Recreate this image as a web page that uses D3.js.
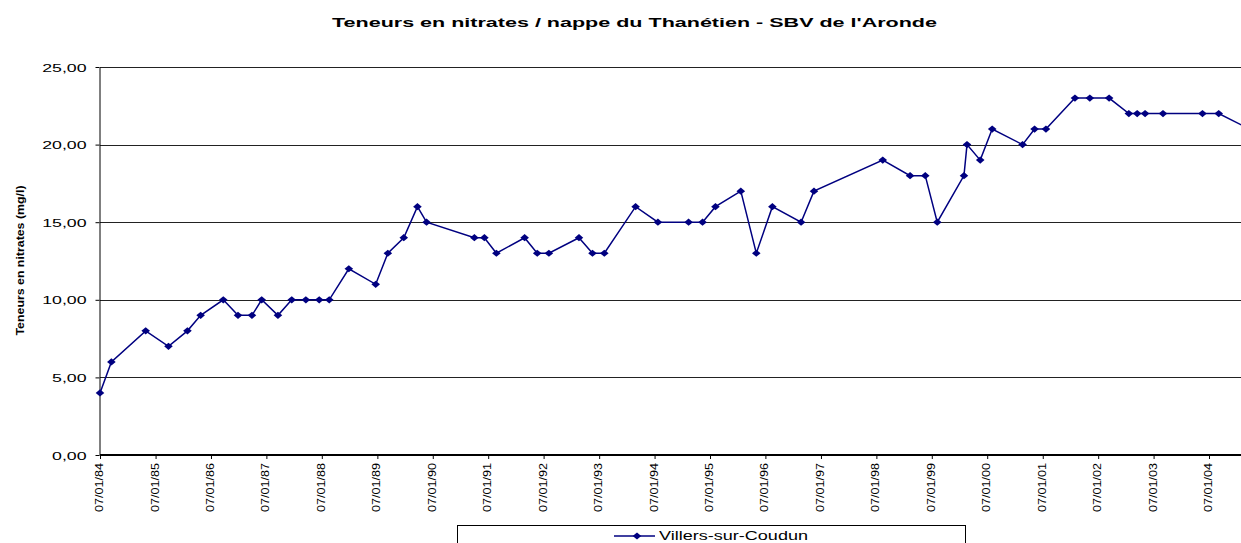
<!DOCTYPE html>
<html>
<head>
<meta charset="utf-8">
<script src="https://cdn.jsdelivr.net/npm/d3@7"></script>
<style>
  body { margin: 0; background: #fff; }
  svg { display: block; font-family: Arial, "Liberation Sans", sans-serif; }
</style>
</head>
<body>
<svg id="chart" width="1241" height="543"></svg>
<script>
// relevés de nitrates - Villers-sur-Coudun
const dates = [
  "07/01/1984","22/03/1984","03/11/1984","02/04/1985","05/08/1985","31/10/1985",
  "29/03/1986","04/07/1986","04/10/1986","07/12/1986","24/03/1987","23/06/1987",
  "24/09/1987","21/12/1987","25/02/1988","03/07/1988","27/12/1988","17/03/1989",
  "30/06/1989","28/09/1989","27/11/1989","08/10/1990","13/12/1990","02/03/1991",
  "04/09/1991","26/11/1991","11/02/1992","27/08/1992","24/11/1992","10/02/1993",
  "04/09/1993","29/01/1994","19/08/1994","19/11/1994","12/02/1995","29/07/1995",
  "08/11/1995","22/02/1996","29/08/1996","22/11/1996","18/02/1998","17/08/1998",
  "25/11/1998","12/02/1999","07/08/1999","27/08/1999","22/11/1999","09/02/2000",
  "27/08/2000","14/11/2000","28/01/2001","07/08/2001","13/11/2001","20/03/2002",
  "28/07/2002","21/09/2002","12/11/2002","10/03/2003","25/11/2003","11/03/2004",
  "30/09/2004"
];
const nitrates = [
  4, 6, 8, 7, 8, 9,
  10, 9, 9, 10, 9, 10,
  10, 10, 10, 12, 11, 13,
  14, 16, 15, 14, 14, 13,
  14, 13, 13, 14, 13, 13,
  16, 15, 15, 15, 16, 17,
  13, 16, 15, 17, 19, 18,
  18, 15, 18, 20, 19, 21,
  20, 21, 21, 23, 23, 23,
  22, 22, 22, 22, 22, 22,
  21
];
const tickYears = d3.range(1984, 2005);
const yTicks = [0, 5, 10, 15, 20, 25];
const serieNom = "Villers-sur-Coudun";
const titre = "Teneurs en nitrates / nappe du Thanétien - SBV de l'Aronde";
const titreY = "Teneurs en nitrates (mg/l)";

const parse = d3.timeParse("%d/%m/%Y");
const data = dates.map((d, i) => ({date: parse(d), v: nitrates[i]}));
const tickDates = tickYears.map(y => new Date(y, 0, 7));

const mLeft = 100, mRight = 1241, mTop = 67, mBottom = 455;
const navy = "#000080";

const svg = d3.select("#chart");

const x = d3.scaleTime()
  .domain([new Date(1984, 0, 7), new Date(2004, 0, 7)])
  .range([mLeft, 1209]);
const y = d3.scaleLinear().domain([0, 25]).range([mBottom, mTop]);

// titre
svg.append("text")
  .attr("x", 634.5).attr("y", 27)
  .attr("text-anchor", "middle")
  .attr("font-size", 13.5).attr("font-weight", "bold")
  .attr("textLength", 605).attr("lengthAdjust", "spacingAndGlyphs")
  .text(titre);

// grille horizontale
svg.append("g").selectAll("line")
  .data(yTicks.filter(t => t > 0)).enter()
  .append("line")
  .attr("x1", mLeft).attr("x2", mRight)
  .attr("y1", d => Math.round(y(d)) + 0.5).attr("y2", d => Math.round(y(d)) + 0.5)
  .attr("stroke", "#222").attr("stroke-width", 1);

// axe Y
const gy = svg.append("g")
  .attr("transform", `translate(${mLeft - 0.5},0)`)
  .call(d3.axisLeft(y).tickValues(yTicks).tickSize(4).tickSizeOuter(0)
    .tickFormat(d => d3.format(".2f")(d).replace(".", ",")));
gy.select(".domain").attr("stroke", "#000");
gy.selectAll(".tick line").attr("stroke", "#000");
gy.selectAll(".tick text")
  .attr("x", null).attr("dy", null)
  .attr("font-size", 11.5).attr("fill", "#000")
  .attr("text-anchor", "end")
  .attr("transform", "translate(-13,4) scale(1.54,1)");

// titre Y
svg.append("text")
  .attr("transform", "translate(24,260.5) rotate(-90)")
  .attr("text-anchor", "middle")
  .attr("font-size", 11).attr("font-weight", "bold")
  .attr("textLength", 150).attr("lengthAdjust", "spacingAndGlyphs")
  .text(titreY);

// axe X
const gx = svg.append("g")
  .attr("transform", `translate(0,${mBottom})`)
  .call(d3.axisBottom(x).tickValues(tickDates).tickSize(4).tickSizeOuter(0)
    .tickFormat(d3.timeFormat("%d/%m/%y")));
gx.select(".domain").attr("stroke", "#000").attr("stroke-width", 2)
  .attr("d", `M${mLeft},0H${mRight}`);
gx.selectAll(".tick line").attr("stroke", "#000");
gx.selectAll(".tick text")
  .attr("transform", "rotate(-90)")
  .attr("x", -8).attr("y", 2.5).attr("dy", 0)
  .attr("text-anchor", "end")
  .attr("font-size", 10.5).attr("fill", "#000")
  .attr("textLength", 49).attr("lengthAdjust", "spacingAndGlyphs");

// courbe
svg.append("clipPath").attr("id", "zone")
  .append("rect").attr("x", mLeft - 6).attr("y", 0).attr("width", mRight - mLeft + 6).attr("height", 543);

const plot = svg.append("g").attr("clip-path", "url(#zone)");
const line = d3.line().x(d => x(d.date)).y(d => y(d.v));
plot.append("path")
  .datum(data)
  .attr("d", line)
  .attr("fill", "none")
  .attr("stroke", navy).attr("stroke-width", 1.5);

const diamond = "M0,-3.6L4.3,0L0,3.6L-4.3,0Z";
plot.selectAll(".pt")
  .data(data).enter()
  .append("path")
  .attr("class", "pt")
  .attr("d", diamond)
  .attr("transform", d => `translate(${x(d.date)},${y(d.v)})`)
  .attr("fill", navy);

// légende
const leg = svg.append("g");
leg.append("rect")
  .attr("x", 457.5).attr("y", 525.5).attr("width", 508).attr("height", 40)
  .attr("fill", "#fff").attr("stroke", "#000").attr("stroke-width", 1);
leg.append("line")
  .attr("x1", 614).attr("x2", 655).attr("y1", 536).attr("y2", 536)
  .attr("stroke", navy).attr("stroke-width", 1.5);
leg.append("path")
  .attr("d", diamond)
  .attr("transform", "translate(637,536)")
  .attr("fill", navy);
leg.append("text")
  .attr("x", 659).attr("y", 540)
  .attr("font-size", 12.5)
  .attr("textLength", 149).attr("lengthAdjust", "spacingAndGlyphs")
  .text(serieNom);
</script>
</body>
</html>
